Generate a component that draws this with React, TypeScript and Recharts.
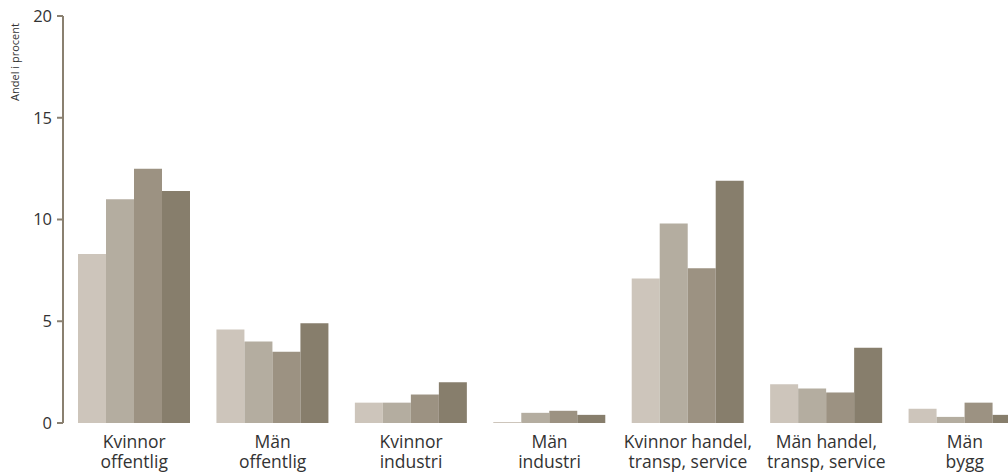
import React from 'react';
import { BarChart, Bar, XAxis, YAxis, Label } from 'recharts';

const categories = [
  'Kvinnor\noffentlig',
  'Män\noffentlig',
  'Kvinnor\nindustri',
  'Män\nindustri',
  'Kvinnor handel,\ntransp, service',
  'Män handel,\ntransp, service',
  'Män\nbygg',
];
const series1 = [8.3, 4.6, 1.0, 0.05, 7.1, 1.9, 0.7];
const series2 = [11.0, 4.0, 1.0, 0.5, 9.8, 1.7, 0.3];
const series3 = [12.5, 3.5, 1.4, 0.6, 7.6, 1.5, 1.0];
const series4 = [11.4, 4.9, 2.0, 0.4, 11.9, 3.7, 0.4];
const yTicks = [0, 5, 10, 15, 20];
const yLabel = 'Andel i procent';

const colors = ['#cdc5bb', '#b4ada0', '#9c9282', '#877e6c'];
const FONT = '"Open Sans", sans-serif';

const data = categories.map((c, i) => ({
  name: c,
  s1: series1[i],
  s2: series2[i],
  s3: series3[i],
  s4: series4[i],
}));

const XTick = (props: any) => {
  const { x, y, payload } = props;
  const lines = String(payload.value).split('\n');
  return (
    <text x={x} y={y} textAnchor="middle" fill="#333" fontSize={17.5} fontFamily={FONT}>
      {lines.map((l, i) => (
        <tspan key={i} x={x} dy={i === 0 ? 17 : 20}>
          {l}
        </tspan>
      ))}
    </text>
  );
};

const YLabelContent = () => (
  <text
    x={19}
    y={62}
    textAnchor="middle"
    fill="#333"
    fontSize={11}
    fontFamily={FONT}
    transform="rotate(-90 19 62)"
  >
    {yLabel}
  </text>
);

export default function App() {
  return (
    <div
      style={{
        position: 'absolute',
        left: 0,
        top: 0,
        width: 1008,
        height: 472,
        overflow: 'hidden',
        background: '#fff',
      }}
    >
      <BarChart
        width={1040}
        height={472}
        data={data}
        margin={{ top: 16, right: 6, bottom: 0, left: 0 }}
        barCategoryGap={13}
        barGap={0}
      >
        <XAxis
          dataKey="name"
          axisLine={false}
          tickLine={false}
          height={49}
          interval={0}
          padding={{ left: 2, right: 0 }}
          tick={<XTick />}
        />
        <YAxis
          width={63}
          domain={[0, 20]}
          ticks={yTicks}
          interval={0}
          axisLine={{ stroke: '#8a8070', strokeWidth: 2 }}
          tickLine={{ stroke: '#8a8070', strokeWidth: 2 }}
          tickSize={6}
          tickMargin={5}
          tick={{ fill: '#333', fontSize: 16.5, fontFamily: FONT }}
        >
          <Label content={<YLabelContent />} />
        </YAxis>
        <Bar dataKey="s1" fill={colors[0]} isAnimationActive={false} />
        <Bar dataKey="s2" fill={colors[1]} isAnimationActive={false} />
        <Bar dataKey="s3" fill={colors[2]} isAnimationActive={false} />
        <Bar dataKey="s4" fill={colors[3]} isAnimationActive={false} />
      </BarChart>
    </div>
  );
}
